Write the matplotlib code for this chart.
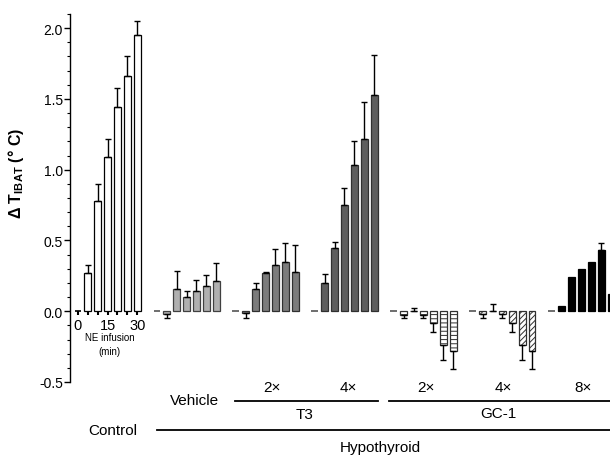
import matplotlib
matplotlib.use("Agg")
import matplotlib.pyplot as plt
from matplotlib.lines import Line2D
import numpy as np

plt.rcParams['font.family'] = ['Liberation Sans', 'DejaVu Sans']
plt.rcParams['hatch.linewidth'] = 0.7

# mean change in IBAT temperature, 7 time points per group (0..30 min NE infusion)
control = [0.0, 0.27, 0.78, 1.09, 1.44, 1.66, 1.95]
control_err = [0.0, 0.06, 0.12, 0.13, 0.14, 0.14, 0.10]
vehicle = [0.0, -0.02, 0.155, 0.10, 0.145, 0.175, 0.215]
vehicle_err = [0.0, 0.03, 0.13, 0.04, 0.075, 0.08, 0.125]
t3_2x = [0.0, -0.01, 0.155, 0.27, 0.33, 0.35, 0.28]
t3_2x_err = [0.0, 0.04, 0.045, 0.005, 0.11, 0.13, 0.19]
t3_4x = [0.0, 0.20, 0.45, 0.75, 1.03, 1.22, 1.53]
t3_4x_err = [0.0, 0.065, 0.04, 0.12, 0.17, 0.26, 0.28]
gc1_2x = [0.0, -0.025, 0.0, -0.03, -0.08, -0.24, -0.28]
gc1_2x_err = [0.0, 0.025, 0.025, 0.02, 0.065, 0.105, 0.125]
gc1_4x = [0.0, -0.02, 0.0, -0.02, -0.08, -0.24, -0.28]
gc1_4x_err = [0.0, 0.03, 0.05, 0.025, 0.065, 0.105, 0.13]
gc1_8x = [0.0, 0.04, 0.24, 0.30, 0.35, 0.43, 0.12]
gc1_8x_err = [0.0, 0.0, 0.0, 0.0, 0.0, 0.05, 0.0]

time_labels = ['0', '15', '30']
time_label_pos = [0, 3, 6]

groups = [
    (control, control_err, 'white', '', 'black'),
    (vehicle, vehicle_err, '#b0b0b0', '', '#404040'),
    (t3_2x, t3_2x_err, '#7c7c7c', '', '#303030'),
    (t3_4x, t3_4x_err, '#5e5e5e', '', '#303030'),
    (gc1_2x, gc1_2x_err, 'white', '----', '#303030'),
    (gc1_4x, gc1_4x_err, 'white', '//////', '#303030'),
    (gc1_8x, gc1_8x_err, 'black', '', 'black'),
]

fig = plt.figure(figsize=(6.1, 4.56), dpi=100)
W, H = 610.0, 456.0
ax = fig.add_axes([70 / W, 1 - 383 / H, 540 / W, 368 / H])

bw = 0.7
for g, (vals, errs, fc, hatch, ec) in enumerate(groups):
    x = g * 8 + np.arange(len(vals))
    vals = np.array(vals)
    errs = np.array(errs)
    # first slot is the baseline dash
    ax.hlines(0, x[0] - bw / 2, x[0] + bw / 2, color='#555555' if g else 'black', lw=1.2)
    ax.bar(x[1:], vals[1:], width=bw, color=fc, edgecolor=ec, hatch=hatch, linewidth=0.9, zorder=2)
    up = np.where(vals >= 0, errs, 0)
    dn = np.where(vals < 0, errs, 0)
    m = errs > 0
    ax.errorbar(x[m], vals[m], yerr=[dn[m], up[m]], fmt='none', ecolor='black',
                elinewidth=1, capsize=2.2, capthick=1, zorder=3)
    if g == 0:
        ax.vlines(x, -0.03, 0, color='black', lw=1.5)

ax.set_xlim(-0.81, 53.9)
ax.set_ylim(-0.5, 2.1)
for s in ['top', 'right', 'bottom']:
    ax.spines[s].set_visible(False)
ax.spines['left'].set_linewidth(1)
ax.set_xticks([])
ax.set_yticks([-0.5, 0.0, 0.5, 1.0, 1.5, 2.0])
ax.set_yticklabels(['-0.5', '0.0', '0.5', '1.0', '1.5', '2.0'])
ax.set_yticks(np.arange(-0.5, 2.101, 0.1), minor=True)
ax.tick_params(axis='y', which='major', length=4, width=1, labelsize=10, pad=1)
ax.tick_params(axis='y', which='minor', length=2.5, width=0.8)
ax.set_ylabel('Δ T$_{\\mathregular{IBAT}}$ (° C)', fontsize=11.5, fontweight='bold')
ax.yaxis.set_label_coords(-44 / 540, (383 - 173) / 368)

# time tick labels under control group
for lab, p in zip(time_labels, time_label_pos):
    ax.text(p, -0.045, lab, ha='center', va='top', fontsize=10.5)
ax.text(3.2, -0.15, 'NE infusion', ha='center', va='top', fontsize=7)
ax.text(3.2, -0.245, '(min)', ha='center', va='top', fontsize=7)

# group labels below the axes (figure pixel positions)
def ftext(x, y, s, size=11):
    fig.text(x / W, 1 - y / H, s, ha='center', va='center', fontsize=size)

def fline(x0, x1, y):
    fig.add_artist(Line2D([x0 / W, x1 / W], [1 - y / H, 1 - y / H], color='black', lw=1.3))

ftext(194, 401, 'Vehicle')
ftext(272, 388, '2×')
ftext(348, 388, '4×')
ftext(426, 388, '2×')
ftext(503, 388, '4×')
ftext(583, 388, '8×')
fline(235, 378, 402)
fline(389, 610, 402)
ftext(305, 415, 'T3')
ftext(498, 414, 'GC-1')
ftext(113, 431, 'Control')
fline(157, 610, 431)
ftext(380, 448, 'Hypothyroid')

fig.savefig('out.png', dpi=100)
